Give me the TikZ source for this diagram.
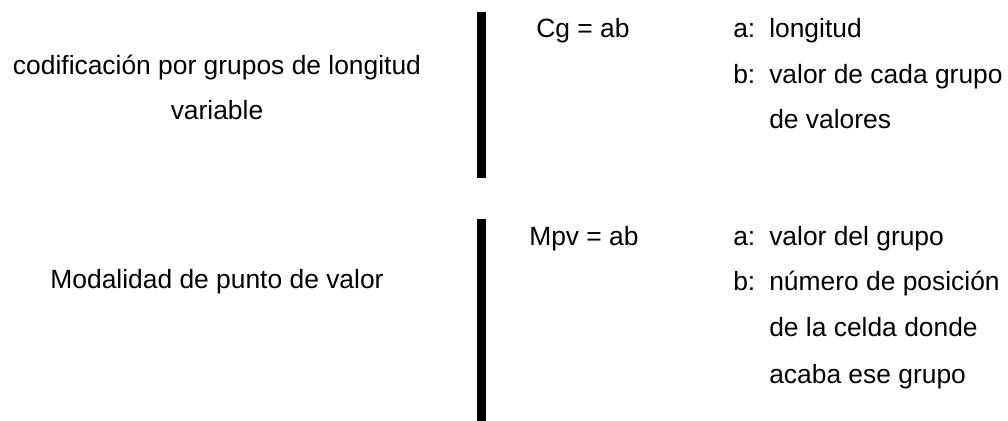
\documentclass[tikz,border=0pt]{standalone}
\usepackage{fontspec}
\setmainfont{Liberation Sans}
\usetikzlibrary{positioning}
\tikzset{
  txt/.style={font=\fontsize{19.8}{24}\selectfont,inner sep=0pt},
  bar/.style={fill=black}
}

\begin{document}
\begin{tikzpicture}[x=0.75pt,y=-0.75pt]
\useasboundingbox (0,0) rectangle (1008,421);
% nombre de cada modalidad
\node[txt,anchor=base] (cg1) at (217,74) {codificación por grupos de longitud};
\node[txt,anchor=base] (cg2) at (217,119) {variable};
\node[txt,anchor=base] (mpv) at (217,288) {Modalidad de punto de valor};
% barras
\fill[bar] (476.5,12) rectangle (486,178);
\fill[bar] (476.5,219) rectangle (486,421);
% formulas
\node[txt,anchor=base west] (fcg) at (536,37) {Cg = ab};
\node[txt,anchor=base west] (fmpv) at (529,245) {Mpv = ab};
% que significan a y b
\foreach \nm/\l/\y/\t in {ca/a:/37/longitud, cb/b:/83/valor de cada grupo, cc//128/de valores,
  ma/a:/245/valor del grupo, mb/b:/290/número de posición, mc//336/de la celda donde, md//383/acaba ese grupo}{
  \node[txt,anchor=base west] (\nm-l) at (733,\y) {\l};
  \node[txt,anchor=base west] (\nm) at (769,\y) {\t};
}
\end{tikzpicture}
\end{document}
